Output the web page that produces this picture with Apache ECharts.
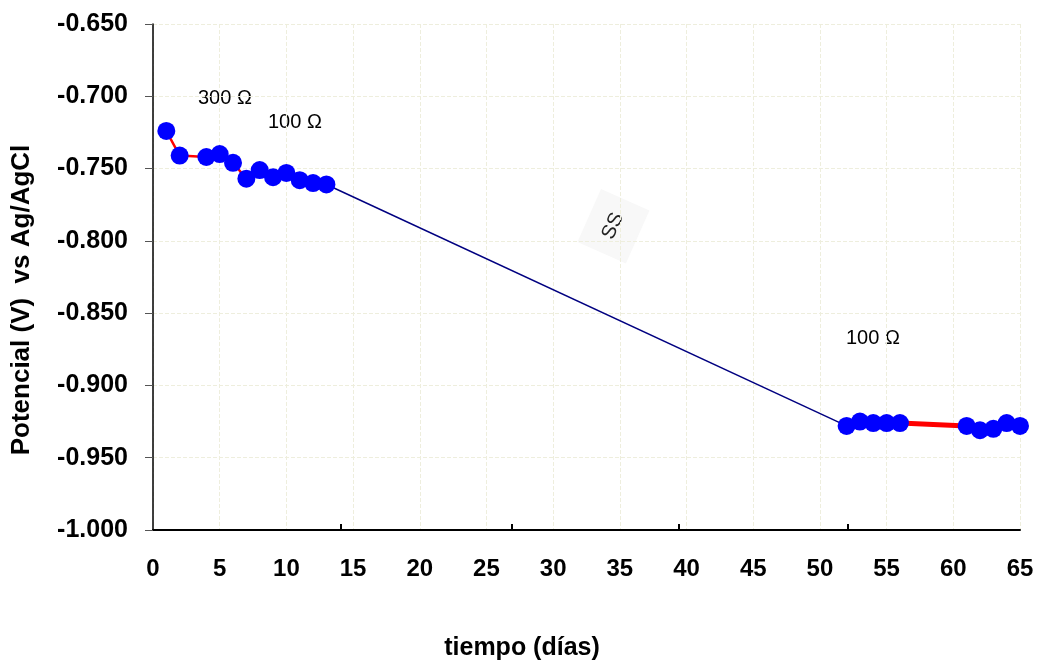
<!DOCTYPE html>
<html>
<head>
<meta charset="utf-8">
<script src="https://cdn.jsdelivr.net/npm/echarts@6/dist/echarts.min.js"></script>
<style>
  html, body { margin: 0; padding: 0; background: #ffffff; }
  #chart { width: 1037px; height: 661px; }
</style>
</head>
<body>
<div id="chart"></div>
<script>
// tiempo (días) y potencial (V) de cada tramo
const diasInicio = [1, 2, 4, 5, 6, 7, 8, 9, 10, 11, 12, 13];
const potInicio = [-0.724, -0.741, -0.742, -0.740, -0.746, -0.757, -0.751, -0.756, -0.753, -0.758, -0.760, -0.761];
const diasFinal = [52, 53, 54, 55, 56, 61, 62, 63, 64, 65];
const potFinal = [-0.928, -0.925, -0.926, -0.926, -0.926, -0.928, -0.931, -0.930, -0.926, -0.928];
// marcas del eje x (sin etiqueta) tal como salen en la gráfica original
const marcasX = [14.1, 26.9, 39.4, 52.1];

const font = "Liberation Sans, Arial, sans-serif";

const inicio = diasInicio.map((d, i) => [d, potInicio[i]]);
const final = diasFinal.map((d, i) => [d, potFinal[i]]);
// tramo que une el último punto inicial con el primero final
const puente = [inicio[inicio.length - 1], final[0]];

const grid = { color: "#eeeedd", type: "dashed", width: 1 };

const chart = echarts.init(document.getElementById("chart"));
chart.setOption({
  animation: false,
  backgroundColor: "#ffffff",
  textStyle: { fontFamily: font },
  grid: { left: 153, right: 17, top: 24, bottom: 131, containLabel: false },
  xAxis: [
    {
      type: "value",
      min: 0,
      max: 65,
      interval: 5,
      axisLine: { show: true, lineStyle: { color: "#000", width: 2 } },
      axisTick: { show: false },
      axisLabel: {
        margin: 27,
        fontSize: 24,
        fontWeight: "bold",
        color: "#000",
        fontFamily: font
      },
      splitLine: { show: true, lineStyle: grid }
    },
    {
      // solo las marcas cortas hacia dentro
      type: "value",
      position: "bottom",
      min: 0,
      max: 65,
      axisLine: { show: false },
      axisLabel: { show: false },
      splitLine: { show: false },
      axisTick: {
        show: true,
        inside: true,
        length: 6,
        customValues: marcasX,
        lineStyle: { color: "#000", width: 2 }
      }
    }
  ],
  yAxis: {
    type: "value",
    min: -1.0,
    max: -0.65,
    interval: 0.05,
    axisLine: { show: true, lineStyle: { color: "#000", width: 1.5 } },
    axisTick: { show: true, length: 8, lineStyle: { color: "#555", width: 1 } },
    axisLabel: {
      margin: 25,
      fontSize: 25,
      fontWeight: "bold",
      color: "#000",
      fontFamily: font,
      formatter: v => v.toFixed(3)
    },
    splitLine: { show: true, lineStyle: grid }
  },
  series: [
    {
      type: "line",
      data: puente,
      symbol: "none",
      lineStyle: { color: "#000080", width: 1.5 },
      z: 1
    },
    {
      type: "line",
      data: inicio,
      symbol: "circle",
      symbolSize: 18,
      itemStyle: { color: "#0000ff" },
      lineStyle: { color: "#ff0000", width: 2.5 },
      z: 2
    },
    {
      type: "line",
      data: final,
      symbol: "circle",
      symbolSize: 18,
      itemStyle: { color: "#0000ff" },
      lineStyle: { color: "#ff0000", width: 5 },
      z: 2
    }
  ],
  graphic: [
    {
      type: "text",
      x: 198, y: 98,
      style: { text: "300 Ω", font: "20px " + font, fill: "#000", verticalAlign: "middle" }
    },
    {
      type: "text",
      x: 268, y: 122,
      style: { text: "100 Ω", font: "20px " + font, fill: "#000", verticalAlign: "middle" }
    },
    {
      type: "text",
      x: 846, y: 338,
      style: { text: "100 Ω", font: "20px " + font, fill: "#000", verticalAlign: "middle" }
    },
    {
      type: "group",
      x: 613, y: 226,
      rotation: 66 * Math.PI / 180,
      children: [
        {
          type: "rect",
          shape: { x: -29, y: -26, width: 58, height: 53 },
          style: { fill: "#f8f8f8" }
        },
        {
          type: "text",
          style: {
            text: "SS", font: "20px " + font, fill: "#222",
            align: "center", verticalAlign: "middle", x: 0, y: 0
          }
        }
      ]
    },
    {
      type: "text",
      x: 22, y: 300,
      rotation: Math.PI / 2,
      style: {
        text: "Potencial (V)  vs Ag/AgCl",
        font: "bold 26px " + font, fill: "#000",
        align: "center", verticalAlign: "middle"
      }
    },
    {
      type: "text",
      x: 522, y: 648,
      style: {
        text: "tiempo (días)",
        font: "bold 25px " + font, fill: "#000",
        align: "center", verticalAlign: "middle"
      }
    }
  ]
});
</script>
</body>
</html>
